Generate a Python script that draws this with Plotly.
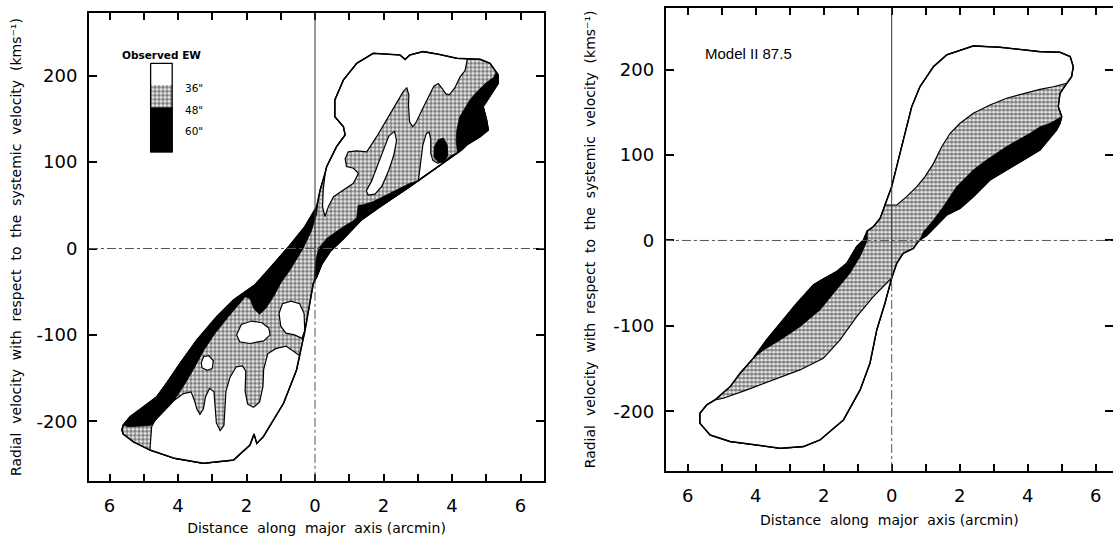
import plotly.graph_objects as go

# ---------------------------------------------------------------------------
# Observed position-velocity map: distance along major axis (arcmin, signed)
# and radial velocity relative to systemic (km/s) of the contour outlines.
# ---------------------------------------------------------------------------
obs_outer_x = [0.05, 0.15, 0.30, 0.34, 0.63, 0.88, 0.83, 0.58, 0.58, 0.83, 1.22, 1.70, 2.48, 2.63, 2.77,
               3.16, 3.60, 4.14, 4.45, 4.82, 5.11, 5.30, 5.35, 5.35, 4.91, 5.01, 5.06, 4.82, 4.43, 4.28,
               4.22, 3.16, 3.02, 2.77, 1.90, 1.35, 0.83, 0.45, 0.20, 0.05, -0.05, -0.15, -0.29, -0.45,
               -0.54, -0.92, -1.51, -1.70, -1.78, -1.90, -2.38, -3.26, -4.10, -4.82, -5.30, -5.60, -5.64,
               -5.60, -5.40, -5.01, -4.62, -4.33, -3.94, -3.45, -2.87, -2.38, -2.04, -1.75, -1.30, -0.75,
               -0.30]
obs_outer_y = [48.5, 67.8, 88.0, 94.8, 118.0, 131.5, 141.1, 152.7, 172.0, 195.2, 214.5, 226.0, 224.1, 219.0,
               224.1, 228.0, 225.0, 220.3, 219.7, 219.1, 214.5, 204.5, 201.0, 191.3, 164.3, 148.8, 137.3,
               129.5, 119.9, 114.1, 112.4, 83.2, 79.2, 71.6, 48.5, 33.0, 11.3, -3.0, -18.0, -33.0, -40.3,
               -63.5, -94.4, -124.0, -140.7, -179.3, -218.0, -225.7, -214.9, -227.6, -245.0, -248.8, -243.0,
               -233.4, -224.0, -215.0, -210.2, -204.4, -194.8, -183.4, -171.7, -156.0, -133.0, -106.0, -79.0,
               -59.7, -50.0, -42.0, -22.0, 3.0, 25.0]

# 36" level only (upper and lower lobes)
obs_white_upper_x = [0.30, 0.34, 0.63, 0.88, 0.83, 0.58, 0.58, 0.83, 1.22, 1.70, 2.48, 2.63, 2.77, 3.16, 3.60,
                     4.14, 4.45, 4.38, 4.24, 4.08, 3.92, 3.82, 3.72, 3.60, 3.47, 3.30, 3.12, 2.95, 2.85, 2.76,
                     2.73, 2.74, 2.68, 2.58, 2.38, 2.09, 1.80, 1.51, 1.22, 0.97, 0.88, 0.92, 1.12, 1.27, 1.12,
                     0.83, 0.54, 0.39, 0.29, 0.22, 0.24]
obs_white_upper_y = [88.0, 94.8, 118.0, 131.5, 141.1, 152.7, 172.0, 195.2, 214.5, 226.0, 224.1, 219.0, 224.1,
                     228.0, 225.0, 220.3, 219.7, 206, 199, 186, 178, 179, 185, 191, 188, 175, 160, 146, 141,
                     147, 165, 178, 186, 182, 168, 149, 129.5, 112, 113, 112, 104, 95, 93, 87, 75.5, 67.8, 60,
                     48.5, 37, 48.5, 67.8]
obs_white_lower_x = [-0.45, -0.54, -0.92, -1.51, -1.70, -1.78, -1.90, -2.38, -3.26, -4.10, -4.82, -4.80, -4.77,
                     -4.62, -4.23, -3.84, -3.62, -3.52, -3.45, -3.36, -3.26, -3.20, -3.08, -2.95, -2.92, -2.88,
                     -2.77, -2.66, -2.63, -2.60, -2.48, -2.30, -2.12, -2.02, -2.04, -1.97, -1.80, -1.62, -1.52,
                     -1.50, -1.38, -1.15, -0.85, -0.60]
obs_white_lower_y = [-124.0, -140.7, -179.3, -218.0, -225.7, -214.9, -227.6, -245.0, -248.8, -243.0, -233.4,
                     -220, -206.4, -195, -179.3, -168, -166, -176, -186, -192, -186, -172, -162, -166, -185,
                     -202, -211, -205, -185, -165, -149, -137, -136, -142, -165, -180, -184, -178, -160, -140,
                     -122, -116, -113, -120]
obs_white_bay_x = [3.02, 3.08, 3.15, 3.25, 3.33, 3.38, 3.38, 3.44, 3.58, 3.80, 3.95, 4.15, 4.22, 3.16]
obs_white_bay_y = [79.2, 100, 120, 133, 135, 126, 110, 102, 99, 101, 107, 111, 112.4, 83.2]

# 36" islands inside the 48" level
obs_hole_a_x = [2.32, 2.38, 2.30, 2.15, 1.95, 1.75, 1.55, 1.50, 1.65, 1.85, 2.00, 2.15]
obs_hole_a_y = [136, 125, 108, 90, 72, 63, 62, 67, 78, 98, 115, 130]
obs_hole_b_x = [-2.29, -2.15, -1.85, -1.55, -1.35, -1.31, -1.50, -1.90, -2.20]
obs_hole_b_y = [-100, -88, -84, -86, -92, -100, -107, -110, -108]
obs_hole_c_x = [-1.05, -0.95, -0.70, -0.45, -0.32, -0.30, -0.38, -0.60, -0.85, -1.00]
obs_hole_c_y = [-75, -64, -61, -64, -75, -95, -104, -100, -98, -90]
obs_hole_d_x = [-3.32, -3.25, -3.10, -2.97, -3.00, -3.15, -3.30]
obs_hole_d_y = [-132, -125, -124, -130, -139, -141, -138]

# 60" level
obs_black_right_x = [5.30, 5.35, 5.35, 4.91, 5.01, 5.06, 4.82, 4.43, 4.28, 4.16, 4.12, 4.14, 4.22, 4.36, 4.52,
                     4.74, 5.00, 5.21]
obs_black_right_y = [204.5, 201.0, 191.3, 164.3, 148.8, 137.3, 129.5, 119.9, 114.1, 110.8, 125, 137, 152, 162,
                     172, 182, 192, 198]
obs_black_blob_x = [3.75, 3.86, 3.88, 3.78, 3.60, 3.47, 3.48, 3.60]
obs_black_blob_y = [128, 120, 108, 100.5, 100, 106, 118, 126]
obs_black_edge_x = [-0.03, 0.02, 0.10, 0.35, 0.83, 1.15, 1.22, 1.26, 1.40, 1.70, 2.19, 2.77, 3.07, 3.02, 2.77,
                    1.90, 1.35, 0.83, 0.45, 0.20, 0.05]
obs_black_edge_y = [-38, -15, 0, 12, 25.3, 33, 36, 50, 50.5, 54.3, 64, 75.5, 79.3, 79.2, 71.6, 48.5, 33.0, 11.3,
                    -3.0, -18.0, -33.0]
obs_black_left_x = [0.08, 0.05, -0.30, -0.75, -1.30, -1.75, -2.04, -2.38, -2.87, -3.45, -3.94, -4.33, -4.62,
                    -5.01, -5.40, -5.60, -5.45, -4.80, -4.50, -4.15, -3.85, -3.55, -3.25, -2.95, -2.55, -2.20,
                    -2.04, -1.90, -1.78, -1.62, -1.45, -1.20, -1.00, -0.73, -0.35, -0.10, 0.05]
obs_black_left_y = [55, 48.5, 25.0, 3.0, -22.0, -42.0, -50.0, -59.7, -79.0, -106.0, -133.0, -156.0, -171.7,
                    -183.4, -194.8, -204.4, -206.5, -205, -192, -178, -160, -140, -118, -100, -80, -63, -56,
                    -58, -70, -76, -70, -55, -40, -25, 0, 21, 40]

# ---------------------------------------------------------------------------
# Model II: same axes
# ---------------------------------------------------------------------------
mod_outer_x = [0.00, 0.34, 0.59, 0.83, 1.23, 1.62, 2.40, 3.19, 3.87, 4.36, 4.95, 5.25, 5.34, 5.29, 5.15, 4.95,
               4.90, 5.00, 4.95, 4.85, 4.36, 3.87, 3.38, 2.89, 2.40, 2.01, 1.62, 1.23, 1.03, 0.83, 0.74, 0.64,
               0.34, 0.15, 0.00, -0.20, -0.44, -0.64, -0.93, -1.42, -2.11, -2.60, -3.28, -3.97, -4.75, -5.34,
               -5.64, -5.64, -5.44, -5.20, -4.75, -4.46, -4.07, -3.68, -3.28, -2.79, -2.30, -2.06, -1.62,
               -1.32, -1.03, -0.83, -0.72, -0.54, -0.34, -0.20]
mod_outer_y = [63.0, 117.6, 156.7, 180.0, 203.6, 217.3, 227.8, 226.2, 223.1, 221.1, 220.3, 215.3, 203.5, 191.8,
               184.0, 172.3, 156.7, 145.0, 137.2, 129.4, 106.0, 94.3, 82.6, 70.9, 51.3, 37.7, 29.9, 14.0, 6.0,
               0.6, -3.3, -9.2, -15.0, -26.7, -44.0, -73.6, -104.8, -143.8, -175.0, -210.2, -233.6, -241.4,
               -243.4, -239.4, -235.5, -227.8, -214.1, -202.4, -192.6, -186.8, -171.1, -155.5, -137.9, -116.5,
               -97.0, -73.6, -52.1, -46.2, -36.5, -26.7, -7.2, 0.6, 11.0, 16.2, 26.0, 41.5]
mod_white_upper_x = [-0.20, 0.00, 0.34, 0.59, 0.83, 1.23, 1.62, 2.40, 3.19, 3.87, 4.36, 4.95, 5.25, 5.34, 5.29,
                     5.15, 4.75, 4.36, 3.87, 3.38, 2.89, 2.40, 2.01, 1.72, 1.47, 1.23, 0.98, 0.74, 0.44, 0.15]
mod_white_upper_y = [41.5, 63.0, 117.6, 156.7, 180.0, 203.6, 217.3, 227.8, 226.2, 223.1, 221.1, 220.3, 215.3,
                     203.5, 191.8, 184.0, 180, 177, 172, 166.5, 158.7, 148.9, 137.2, 125.5, 109.8, 90.3, 74.7,
                     63.0, 51.3, 41.5]
mod_white_lower_x = [0.00, -0.20, -0.44, -0.64, -0.93, -1.42, -2.11, -2.60, -3.28, -3.97, -4.75, -5.34, -5.64,
                     -5.64, -5.44, -5.20, -4.95, -4.26, -3.48, -2.70, -2.01, -1.52, -1.03, -0.54]
mod_white_lower_y = [-44.0, -73.6, -104.8, -143.8, -175.0, -210.2, -233.6, -241.4, -243.4, -239.4, -235.5,
                     -227.8, -214.1, -202.4, -192.6, -186.8, -184.8, -175.0, -163.4, -151.6, -138.0, -116.5,
                     -89.2, -65.8]
mod_black_upper_x = [0.83, 0.93, 1.23, 1.52, 1.91, 2.40, 2.79, 3.38, 4.07, 4.36, 4.66, 5.00, 4.95, 4.85, 4.36,
                     3.87, 3.38, 2.89, 2.40, 2.01, 1.62, 1.23, 1.03]
mod_black_upper_y = [0.6, 10.0, 24.0, 39.6, 63.0, 82.6, 94.3, 110.0, 125.5, 133.0, 137.2, 145.0, 137.2, 129.4,
                     106.0, 94.3, 82.6, 70.9, 51.3, 37.7, 29.9, 14.0, 6.0]
mod_black_lower_x = [-0.72, -0.83, -1.03, -1.32, -1.62, -2.06, -2.30, -2.79, -3.28, -3.68, -4.07, -3.77, -3.28,
                     -2.70, -2.11, -1.62, -1.23, -0.93, -0.72]
mod_black_lower_y = [11.0, 0.6, -7.2, -26.7, -36.5, -46.2, -52.1, -73.6, -97.0, -116.5, -137.9, -128.3, -116.5,
                     -101.0, -81.4, -58.0, -38.4, -18.9, 0.0]

# axis ticks (labels every 2 arcmin, minor marks every arcmin)
x_ticks = [-6, -4, -2, 0, 2, 4, 6]
x_tick_text = [str(abs(v)) for v in x_ticks]
y_ticks = [-200, -100, 0, 100, 200]
y_tick_text = ["-200", "-100", "0", "100", "200"]

# key of the observed panel
key_levels = ['36"', '48"', '60"']

STIPPLE = dict(shape=".", size=4, solidity=0.68, fgcolor="black", bgcolor="white")

fig = go.Figure()


def region(xs, ys, xa, ya, kind, lw=1.2):
    xs = list(xs) + [xs[0]]
    ys = list(ys) + [ys[0]]
    common = dict(x=xs, y=ys, xaxis=xa, yaxis=ya, mode="lines", fill="toself",
                  hoverinfo="skip", showlegend=False)
    if kind == "stipple":
        fig.add_trace(go.Scatter(**common, fillcolor="white", fillpattern=STIPPLE,
                                 line=dict(color="black", width=lw)))
    elif kind == "white":
        fig.add_trace(go.Scatter(**common, fillcolor="white", line=dict(color="black", width=lw)))
    else:
        fig.add_trace(go.Scatter(**common, fillcolor="black", line=dict(color="black", width=0.8)))


def outline(xs, ys, xa, ya, lw=1.5):
    fig.add_trace(go.Scatter(x=list(xs) + [xs[0]], y=list(ys) + [ys[0]], xaxis=xa, yaxis=ya,
                             mode="lines", line=dict(color="black", width=lw),
                             hoverinfo="skip", showlegend=False))


# observed panel
region(obs_outer_x, obs_outer_y, "x", "y", "stipple")
region(obs_white_upper_x, obs_white_upper_y, "x", "y", "white")
region(obs_white_lower_x, obs_white_lower_y, "x", "y", "white")
region(obs_white_bay_x, obs_white_bay_y, "x", "y", "white")
for hx, hy in [(obs_hole_a_x, obs_hole_a_y), (obs_hole_b_x, obs_hole_b_y),
               (obs_hole_c_x, obs_hole_c_y), (obs_hole_d_x, obs_hole_d_y)]:
    region(hx, hy, "x", "y", "white")
for bx, by in [(obs_black_right_x, obs_black_right_y), (obs_black_blob_x, obs_black_blob_y),
               (obs_black_edge_x, obs_black_edge_y), (obs_black_left_x, obs_black_left_y)]:
    region(bx, by, "x", "y", "black")
outline(obs_outer_x, obs_outer_y, "x", "y")

# key box (white / stippled / black bar)
KX0, KX1 = -4.80, -4.17
KY = [214.5, 189.3, 163.0, 111.8]
for i, kind in enumerate(["white", "stipple", "black"]):
    region([KX0, KX1, KX1, KX0], [KY[i], KY[i], KY[i + 1], KY[i + 1]], "x", "y", kind, lw=0)
outline([KX0, KX1, KX1, KX0], [KY[0], KY[0], KY[3], KY[3]], "x", "y", lw=1.3)

# model panel
region(mod_outer_x, mod_outer_y, "x2", "y2", "stipple")
region(mod_white_upper_x, mod_white_upper_y, "x2", "y2", "white")
region(mod_white_lower_x, mod_white_lower_y, "x2", "y2", "white")
region(mod_black_upper_x, mod_black_upper_y, "x2", "y2", "black")
region(mod_black_lower_x, mod_black_lower_y, "x2", "y2", "black")
outline(mod_outer_x, mod_outer_y, "x2", "y2")

# carrier for the right-hand tick marks of the model panel
fig.add_trace(go.Scatter(x=[0], y=[0], xaxis="x2", yaxis="y3", mode="markers",
                         marker=dict(opacity=0), hoverinfo="skip", showlegend=False))

# reference lines through the origin
shapes = []
for xr, yr, (x0, x1), (y0, y1) in [("x", "y", (-6.6, 6.7), (-269, 273)),
                                   ("x2", "y2", (-6.7, 6.6), (-270, 273))]:
    shapes.append(dict(type="line", xref=xr, yref=yr, x0=x0, x1=x1, y0=0, y1=0,
                       line=dict(color="#555", width=1, dash="dashdot")))
    shapes.append(dict(type="line", xref=xr, yref=yr, x0=0, x1=0, y0=-42, y1=y1,
                       line=dict(color="#333", width=1)))
    shapes.append(dict(type="line", xref=xr, yref=yr, x0=0, x1=0, y0=y0, y1=-42,
                       line=dict(color="#555", width=1, dash="dashdot")))

TICKFONT = dict(family="DejaVu Sans", size=18, color="black")
TITLE_FONT = dict(family="DejaVu Sans", size=14, color="black")
axis_common = dict(showline=True, linecolor="black", linewidth=2, ticks="inside",
                   tickcolor="black", tickwidth=1.6, showgrid=False, zeroline=False,
                   tickfont=TICKFONT, fixedrange=True, automargin=False)
MINOR_X = dict(dtick=1, tick0=0, ticks="inside", ticklen=7, tickwidth=1.6, tickcolor="black",
               showgrid=False)

ytitle = "Radial  velocity  with  respect  to  the  systemic  velocity  (kms\u207b\u00b9)"
xtitle = "Distance  along  major  axis (arcmin)"

annotations = [
    dict(text="<b>Observed EW</b>", xref="x", yref="y", x=-4.48, y=224, showarrow=False,
         font=dict(family="DejaVu Sans", size=10.5, color="black"), xanchor="center", yanchor="middle"),
    dict(text="Model II 87.5", xref="x2", yref="y2", x=-5.55, y=219.5, showarrow=False,
         font=dict(family="Liberation Sans", size=15, color="black"), xanchor="left", yanchor="middle"),
]
for lvl, ly in zip(key_levels, [185.5, 160.4, 136.0]):
    annotations.append(dict(text=lvl, xref="x", yref="y", x=-3.85, y=ly, showarrow=False,
                            font=dict(family="DejaVu Sans", size=10.5, color="black"),
                            xanchor="left", yanchor="middle"))

fig.update_layout(
    width=1113, height=542, margin=dict(l=0, r=0, t=0, b=0),
    paper_bgcolor="white", plot_bgcolor="white", showlegend=False,
    xaxis=dict(domain=[89 / 1113, 544 / 1113], range=[-6.599, 6.686], anchor="y",
               tickvals=x_ticks, ticktext=x_tick_text, ticklen=7, mirror="ticks",
               ticklabelstandoff=8, minor=MINOR_X,
               title=dict(text=xtitle, font=TITLE_FONT, standoff=8), **axis_common),
    yaxis=dict(domain=[1 - 480.7 / 542, 1 - 13.3 / 542], range=[-268.9, 272.4], anchor="x",
               tickvals=y_ticks, ticktext=y_tick_text, ticklen=8, mirror="ticks",
               ticklabelstandoff=6,
               title=dict(text=ytitle, font=TITLE_FONT, standoff=12), **axis_common),
    xaxis2=dict(domain=[665.7 / 1113, 1.0], range=[-6.647, 6.509], anchor="y2",
                tickvals=x_ticks, ticktext=x_tick_text, ticklen=7, mirror="ticks",
                ticklabelstandoff=8, minor=MINOR_X,
                title=dict(text=xtitle, font=TITLE_FONT, standoff=10), **axis_common),
    yaxis2=dict(domain=[1 - 470.7 / 542, 1 - 8 / 542], range=[-269.6, 272.2], anchor="x2",
                tickvals=y_ticks, ticktext=y_tick_text, ticklen=8, mirror=False,
                ticklabelstandoff=6,
                title=dict(text=ytitle, font=TITLE_FONT, standoff=14), **axis_common),
    yaxis3=dict(overlaying="y2", side="right", anchor="x2", range=[-269.6, 272.2],
                tickvals=y_ticks, showticklabels=False, ticks="inside", ticklen=8,
                tickwidth=1.6, tickcolor="black", showline=False, showgrid=False,
                zeroline=False, fixedrange=True),
    shapes=shapes,
    annotations=annotations,
)

fig.write_html("out.html")
